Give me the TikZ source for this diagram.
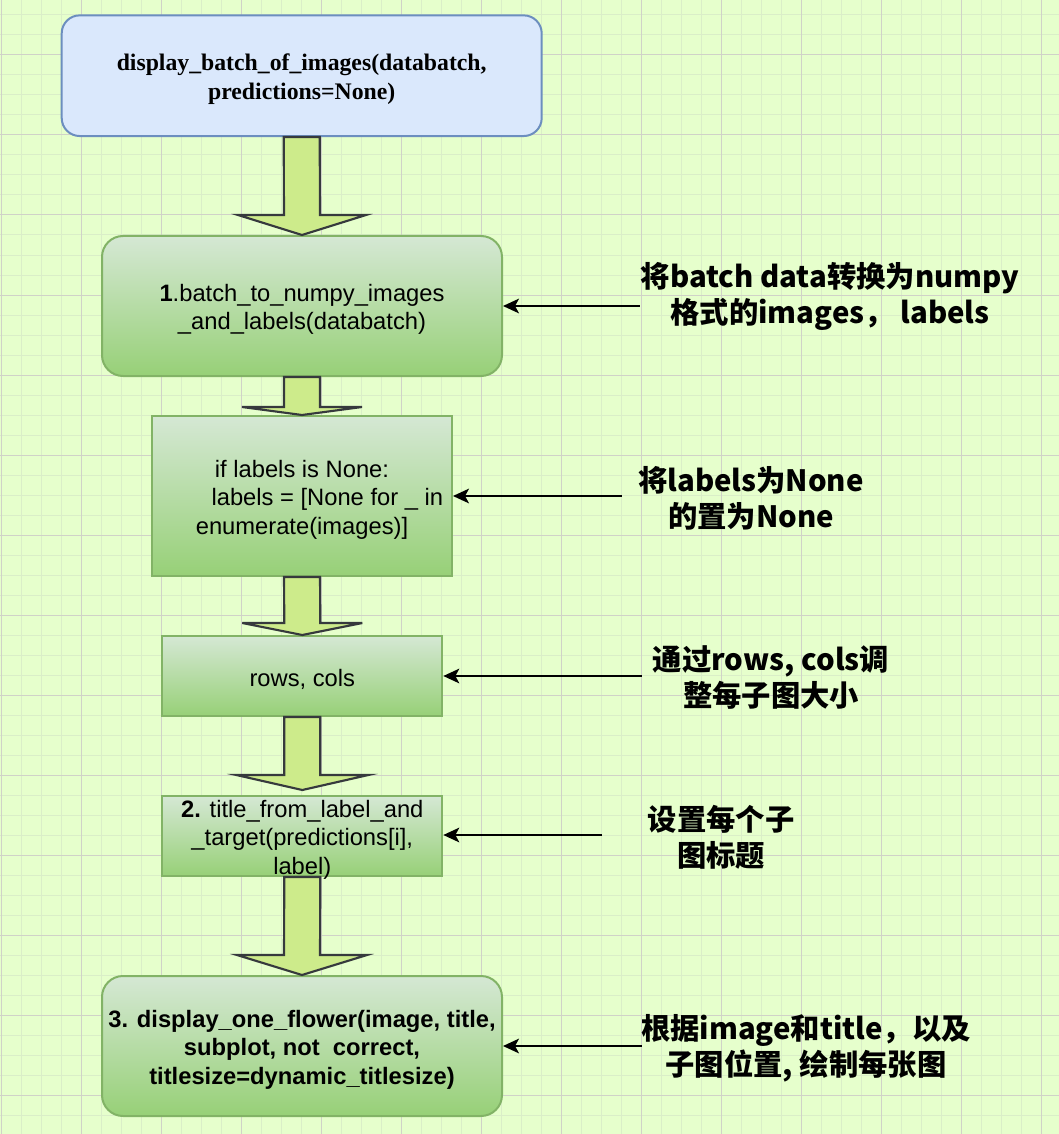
\documentclass[tikz,border=0pt]{standalone}
\usepackage{fontspec}
\setmainfont{Liberation Sans}
\newfontfamily\tnr{Liberation Serif}
\newfontfamily\cjk{Noto Sans CJK SC}
\usetikzlibrary{arrows.meta,calc}
\definecolor{bgc}{HTML}{E6FFCC}
\definecolor{gmin}{RGB}{218,238,200}
\definecolor{gmaj}{RGB}{208,210,200}
\definecolor{bluef}{HTML}{DAE8FC}
\definecolor{blued}{HTML}{6C8EBF}
\definecolor{gtop}{HTML}{D5E8D4}
\definecolor{gbot}{HTML}{97D077}
\definecolor{gdraw}{HTML}{82B366}
\definecolor{arrf}{HTML}{CDEB8B}
\definecolor{arrd}{HTML}{36393D}
\newcommand\myBody{\fontsize{17.8pt}{21.4pt}\selectfont}
\newcommand\myNote{\cjk\bfseries\fontsize{22pt}{27pt}\selectfont}
\newcommand\blkarrow[5]{% from, to, head depth, half head width, tip gap
  \draw[blk] ($(#1.south)+(-18,0)$) -- ($(#2.north)+(-18,-#3-#5)$)
    -- ($(#2.north)+(-#4,-#3-#5)$) -- ($(#2.north)+(0,-#5)$)
    -- ($(#2.north)+(#4,-#3-#5)$) -- ($(#2.north)+(18,-#3-#5)$)
    -- ($(#1.south)+(18,0)$) -- cycle;}
\begin{document}
\begin{tikzpicture}[x=0.75pt,y=-0.75pt,
  box/.style={draw, line width=1.5pt, inner sep=0pt},
  bluebox/.style={box, fill=bluef, draw=blued, rounded corners=13.5pt},
  greenbox/.style={box, draw=gdraw, top color=gtop, bottom color=gbot},
  roundgreen/.style={greenbox, rounded corners=15.75pt},
  btext/.style={align=center, font=\myBody, inner sep=0pt},
  blk/.style={draw=arrd, fill=arrf, line width=1.6pt, line join=miter},
  edge/.style={draw=black, line width=1.5pt, -{Stealth[length=12pt,width=11pt,inset=3pt]}},
  note/.style={font=\myNote, align=center, inner sep=0pt}]
\useasboundingbox (0,0) rectangle (1059,1134);
\fill[bgc] (0,0) rectangle (1059,1134);
\foreach \x in {1.7,21.7,...,1060} \draw[gmin, line width=0.75pt] (\x,0) -- (\x,1134);
\foreach \y in {15,35,...,1134} \draw[gmin, line width=0.75pt] (0,\y) -- (1059,\y);
\foreach \x in {1.7,81.7,...,1060} \draw[gmaj, line width=0.75pt] (\x,0) -- (\x,1134);
\foreach \y in {55,135,...,1134} \draw[gmaj, line width=0.75pt] (0,\y) -- (1059,\y);

% boxes
\node[bluebox, minimum width=360pt, minimum height=90.5pt] (b0) at (301.7,75.7) {};
\node[roundgreen, minimum width=300pt, minimum height=105pt] (b1) at (302,306) {};
\node[greenbox, minimum width=225pt, minimum height=120pt] (b2) at (302,496) {};
\node[greenbox, minimum width=210pt, minimum height=60pt] (b3) at (302.3,676) {};
\node[greenbox, minimum width=210pt, minimum height=60pt] (b4) at (302.3,836) {};
\node[roundgreen, minimum width=300pt, minimum height=105pt] (b5) at (302,1046) {};

% box texts
\node[btext, font=\tnr\bfseries\myBody] (t0) at ($(b0.center)+(0,3.5)$)
  {display\_batch\_of\_images(databatch,\\predictions=None)};
\node[btext] (t1) at ($(b1.center)+(0,3.5)$)
  {\textbf{1}.batch\_to\_numpy\_images\\\_and\_labels(databatch)};
\node[btext] (t2) at ($(b2.center)+(0,3.5)$)
  {if labels is None:\\\hspace*{38pt}labels = [None for \_ in\\enumerate(images)]};
\node[btext] (t3) at ($(b3.center)+(0,3.5)$) {rows, cols};
\node[btext] (t4) at ($(b4.center)+(0,3.5)$)
  {\textbf{2.} title\_from\_label\_and\\\_target(predictions[i],\\label)};
\node[btext, font=\bfseries\myBody] (t5) at ($(b5.center)+(0,3.5)$)
  {3. display\_one\_flower(image, title,\\subplot, not\ \ correct,\\titlesize=dynamic\_titlesize)};

% block arrows
\blkarrow{b0}{b1}{20}{64}{0}
\blkarrow{b1}{b2}{8}{60}{0}
\blkarrow{b2}{b3}{12}{60}{0}
\blkarrow{b3}{b4}{15}{66}{5}
\blkarrow{b4}{b5}{20}{65}{0}

% notes
\node[note] (n1) at (830,296) {将batch data转换为numpy\\格式的images， labels};
\node[note] (n2) at (751,498) {将labels为None\\的置为None};
\node[note] (n3) at (771,678) {通过rows, cols调\\整每子图大小};
\node[note] (n4) at (721,837) {设置每个子\\图标题};
\node[note] (n5) at (806,1048.5) {根据image和title，以及\\子图位置, 绘制每张图};

% edges
\coordinate (s1) at (639.5,306);
\coordinate (s2) at (621.7,496);
\coordinate (s3) at (641.8,676);
\coordinate (s4) at (602,835);
\coordinate (s5) at (641.8,1046);
\draw[edge] (s1) -- (s1 -| b1.east);
\draw[edge] (s2) -- (s2 -| b2.east);
\draw[edge] (s3) -- (s3 -| b3.east);
\draw[edge] (s4) -- (s4 -| b4.east);
\draw[edge] (s5) -- (s5 -| b5.east);
\end{tikzpicture}
\end{document}
